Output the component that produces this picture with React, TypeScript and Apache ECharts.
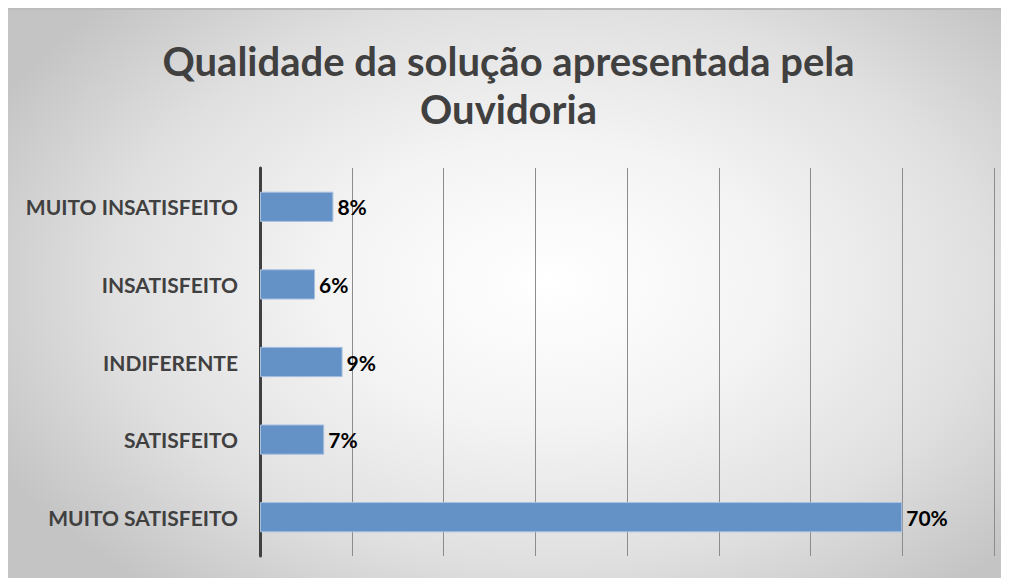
import React, { useEffect, useRef } from "react";
import * as echarts from "echarts";

const categories = ["MUITO INSATISFEITO", "INSATISFEITO", "INDIFERENTE", "SATISFEITO", "MUITO SATISFEITO"];
const values = [8, 6, 9, 7, 70];
const titleText = "Qualidade da solução apresentada pela\nOuvidoria";

export default function App() {
  const ref = useRef<HTMLDivElement>(null);
  useEffect(() => {
    const chart = echarts.init(ref.current!, null, { renderer: "svg" });
    chart.setOption({
      animation: false,
      title: {
        text: titleText,
        left: "center",
        top: 22,
        textStyle: {
          fontFamily: "Lato",
          fontWeight: "bold",
          fontSize: 40,
          lineHeight: 48,
          color: "#404040",
        },
      },
      grid: { left: 252, right: 15, top: 158, bottom: 22, containLabel: false },
      xAxis: {
        type: "value",
        min: 0,
        max: 80,
        interval: 10,
        axisLabel: { show: false },
        axisLine: { show: false },
        axisTick: { show: false },
        splitLine: { show: true, lineStyle: { color: "#8c8c8c", width: 1 } },
      },
      yAxis: {
        type: "category",
        data: categories,
        inverse: true,
        axisTick: { show: false },
        axisLine: { show: true, lineStyle: { color: "#404040", width: 3 } },
        axisLabel: {
          fontFamily: "Lato",
          fontWeight: "bold",
          fontSize: 21,
          color: "#404040",
          margin: 22,
        },
      },
      series: [
        {
          type: "bar",
          data: values,
          barWidth: "39%",
          itemStyle: { color: "#6592c6", borderColor: "#a9c1e0", borderWidth: 1 },
          label: {
            show: true,
            position: "right",
            distance: 4,
            formatter: "{c}%",
            fontFamily: "Lato",
            fontWeight: "bold",
            fontSize: 21,
            color: "#000000",
          },
        },
      ],
    });
    return () => chart.dispose();
  }, []);
  return (
    <div
      ref={ref}
      style={{
        width: 1001,
        height: 570,
        boxSizing: "border-box",
        borderTop: "2px solid #bcbcbc",
        background: "radial-gradient(ellipse 62% 70% at 54% 48%, #ffffff 0%, #f4f4f4 35%, #e0e0e0 70%, #c4c4c4 100%)",
      }}
    />
  );
}
